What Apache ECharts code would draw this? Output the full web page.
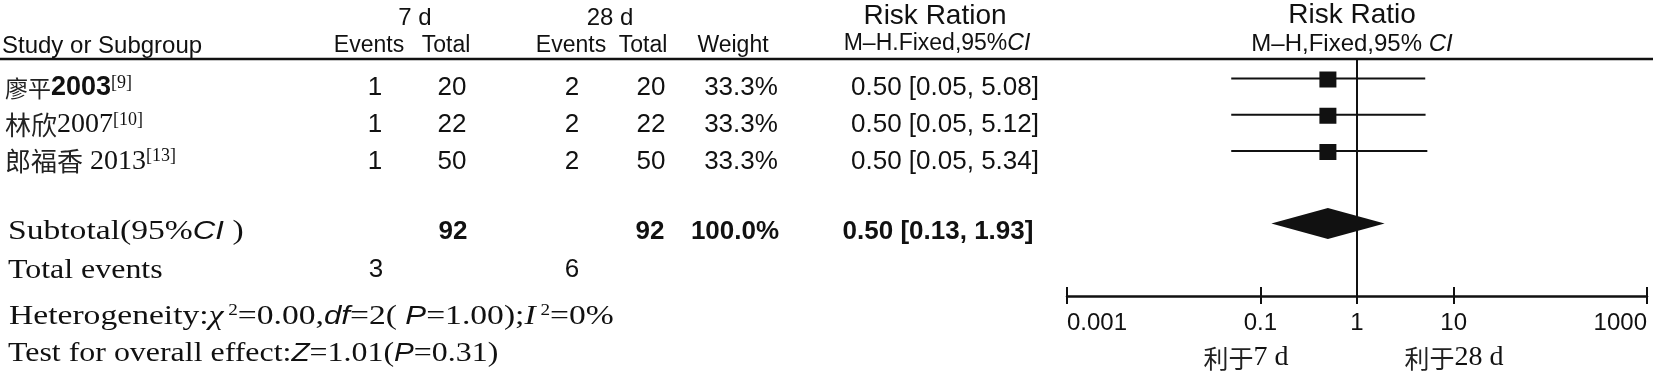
<!DOCTYPE html>
<html><head><meta charset="utf-8">
<script src="https://cdn.jsdelivr.net/npm/echarts@6/dist/echarts.min.js"></script>
<style>html,body{margin:0;padding:0;background:#fff}#c{width:1653px;height:375px}</style>
</head><body><div id="c"></div>
<script>
// ---------------- data ----------------
const studyNames = ['廖平', '林欣', '郎福香'];
const studyYears = ['2003', '2007', '2013'];
const studyRefs = ['[9]', '[10]', '[13]'];
const events7 = [1, 1, 1];
const total7 = [20, 22, 50];
const events28 = [2, 2, 2];
const total28 = [20, 22, 50];
const weights = [33.3, 33.3, 33.3];
const rrEst = [0.50, 0.50, 0.50];
const rrLow = [0.05, 0.05, 0.05];
const rrHigh = [5.08, 5.12, 5.34];
const subTotals = [92, 92];
const subWeight = [100.0];
const subRR = [0.50, 0.13, 1.93]; // est, low, high
const totalEvents = [3, 6];
const heteroStats = ['0.00', '2', '1.00', '0%']; // chi2, df, P, I2
const overallStats = ['1.01', '0.31']; // Z, P
const tickValues = [0.001, 0.1, 1, 10, 1000];
const tickLabels = ['0.001', '0.1', '1', '10', '1000'];
const groupLabels = ['7 d', '28 d'];

// ---------------- style / layout ----------------
const INK = '#111';
const SANS = '"Liberation Sans", Arial, "Noto Sans CJK SC", sans-serif';
const SERIF = '"Liberation Serif", "Times New Roman", "Noto Sans CJK SC", serif';
const CJK = '"Noto Sans CJK SC", sans-serif';
const rowY = [88, 125, 161.5];
const yearStyle = ['sb', 'sr', 'sr'];
const cjkStyle = ['cjkS', 'cjk', 'cjk'];
const nameGap = ['', '', ' '];
const SUB_ROW = 4;

const lg = v => Math.round(Math.log10(v) * 1e6) / 1e6;
const tickPos = tickValues.map(lg);

const rich = {
  cjk: {fontFamily: CJK, fontSize: 26, fill: '#222'},
  cjkS: {fontFamily: CJK, fontSize: 23, fill: '#222'},
  cjkA: {fontFamily: CJK, fontSize: 25, fill: '#222'},
  sr: {fontFamily: SERIF, fontSize: 28, fill: INK},
  sb: {fontFamily: SANS, fontSize: 27, fontWeight: 'bold', fill: INK},
  sup: {fontFamily: SERIF, fontSize: 18, fill: INK, verticalAlign: 'top'},
  is: {fontFamily: SANS, fontStyle: 'italic', fontSize: 26, fill: INK},
  is23: {fontFamily: SANS, fontStyle: 'italic', fontSize: 23, fill: INK},
  is24: {fontFamily: SANS, fontStyle: 'italic', fontSize: 24, fill: INK},
  ix: {fontFamily: SERIF, fontStyle: 'italic', fontSize: 28, fill: INK},
  s2: {fontFamily: SERIF, fontSize: 16, fill: INK, verticalAlign: 'top'},
  h: {fontFamily: SANS, fontSize: 23, fill: INK},
  h24: {fontFamily: SANS, fontSize: 24, fill: INK}
};

function T(x, y, text, o) {
  o = o || {};
  return {
    type: 'text', x: x, y: y, silent: true, scaleX: o.scaleX || 1,
    style: {
      text: text, fill: INK,
      fontSize: o.size || 26, fontFamily: o.family || SANS,
      fontWeight: o.weight || 'normal', fontStyle: 'normal',
      align: o.align || 'center', verticalAlign: 'middle',
      rich: rich
    }
  };
}
const rrText = (e, l, h) => e.toFixed(2) + ' [' + l.toFixed(2) + ', ' + h.toFixed(2) + ']';

const g = [];
// header rule
g.push({type: 'line', silent: true, shape: {x1: 0, y1: 59, x2: 1653, y2: 59}, style: {stroke: INK, lineWidth: 2.5}});
// headers
g.push(T(2, 46, 'Study or Subgroup', {align: 'left', size: 24}));
g.push(T(415, 18.5, groupLabels[0], {size: 24}));
g.push(T(369, 46, 'Events', {size: 23}));
g.push(T(446, 46, 'Total', {size: 23}));
g.push(T(610, 18.5, groupLabels[1], {size: 24}));
g.push(T(571, 46, 'Events', {size: 23}));
g.push(T(643, 46, 'Total', {size: 23}));
g.push(T(733, 46, 'Weight', {size: 23}));
g.push(T(935, 16, 'Risk Ration', {size: 28}));
g.push(T(937, 44, '{h|M–H.Fixed,95%}{is23|CI}', {size: 23}));
g.push(T(1352, 15, 'Risk Ratio', {size: 28}));
g.push(T(1352, 44, '{h24|M–H,Fixed,95% }{is24|CI}', {size: 24}));

// study rows
studyNames.forEach((n, i) => {
  const y = rowY[i];
  g.push(T(5, y, '{' + cjkStyle[i] + '|' + n + '}{sr|' + nameGap[i] + '}{' + yearStyle[i] + '|' + studyYears[i] + '}{sup|' + studyRefs[i] + '}', {align: 'left', family: SERIF, size: 28}));
  g.push(T(375, y, String(events7[i])));
  g.push(T(452, y, String(total7[i])));
  g.push(T(572, y, String(events28[i])));
  g.push(T(651, y, String(total28[i])));
  g.push(T(741, y, weights[i].toFixed(1) + '%'));
  g.push(T(945, y, rrText(rrEst[i], rrLow[i], rrHigh[i])));
});

// subtotal row
g.push(T(8, 232, '{sr|Subtotal(95%}{is|CI}{sr| )}', {align: 'left', family: SERIF, size: 28, scaleX: 1.2}));
g.push(T(453, 232, String(subTotals[0]), {weight: 'bold'}));
g.push(T(650, 232, String(subTotals[1]), {weight: 'bold'}));
g.push(T(735, 232, subWeight[0].toFixed(1) + '%', {weight: 'bold'}));
g.push(T(938, 232, rrText(subRR[0], subRR[1], subRR[2]), {weight: 'bold'}));
// total events
g.push(T(8, 271, 'Total events', {align: 'left', family: SERIF, size: 28, scaleX: 1.14}));
g.push(T(376, 270, String(totalEvents[0])));
g.push(T(572, 270, String(totalEvents[1])));
// heterogeneity & overall effect
g.push(T(9, 317, '{sr|Heterogeneity:}{ix|χ}{s2| 2}{sr|=' + heteroStats[0] + ',}{is|df}{sr|=' + heteroStats[1] + '( }{is|P}{sr|=' + heteroStats[2] + ');}{ix|I}{s2| 2}{sr|=' + heteroStats[3] + '}',
  {align: 'left', family: SERIF, size: 28, scaleX: 1.2}));
g.push(T(8, 354, '{sr|Test for overall effect:}{is|Z}{sr|=' + overallStats[0] + '(}{is|P}{sr|=' + overallStats[1] + ')}',
  {align: 'left', family: SERIF, size: 28, scaleX: 1.14}));
// favours labels
g.push(T(1246, 358, '{cjkA|利于}{sr|' + groupLabels[0] + '}', {family: SERIF, size: 28}));
g.push(T(1454, 358, '{cjkA|利于}{sr|' + groupLabels[1] + '}', {family: SERIF, size: 28}));

// ---------------- chart ----------------
const studyData = studyNames.map((_, i) => [lg(rrLow[i]), lg(rrHigh[i]), lg(rrEst[i]), i, weights[i]]);
const maxW = Math.max.apply(null, weights);
const subData = [[lg(subRR[1]), lg(subRR[2]), lg(subRR[0]), SUB_ROW]];

const axisCommon = {type: 'value', min: -3, max: 3, position: 'bottom', splitLine: {show: false}};
const option = {
  animation: false,
  graphic: g,
  grid: {left: 1067, right: 6, top: 59, bottom: 79},
  xAxis: [
    Object.assign({}, axisCommon, {
      axisLine: {show: true, onZero: false, lineStyle: {color: INK, width: 2.5}},
      axisTick: {show: true, customValues: tickPos, length: 8, inside: false, lineStyle: {color: INK, width: 2}},
      axisLabel: {show: true, customValues: tickPos, margin: 15, fontSize: 24, fontFamily: SANS, color: INK,
        alignMinLabel: 'left', alignMaxLabel: 'right',
        formatter: v => { const k = tickPos.findIndex(p => Math.abs(p - v) < 1e-6); return k >= 0 ? tickLabels[k] : ''; }}
    }),
    Object.assign({}, axisCommon, {
      axisLine: {show: false, onZero: false},
      axisTick: {show: true, customValues: tickPos, length: 9, inside: true, lineStyle: {color: INK, width: 2}},
      axisLabel: {show: false}
    })
  ],
  yAxis: {type: 'value', inverse: true, min: -0.538, max: 6.0, show: false},
  series: [
    {
      type: 'custom', xAxisIndex: 0, silent: true,
      encode: {x: [0, 1, 2], y: 3},
      data: studyData,
      renderItem: function (params, api) {
        const lo = api.coord([api.value(0), api.value(3)]);
        const hi = api.coord([api.value(1), api.value(3)]);
        const es = api.coord([api.value(2), api.value(3)]);
        const s = Math.sqrt(api.value(4) / maxW);
        const w = 17 * s, h = 16 * s;
        return {type: 'group', children: [
          {type: 'line', shape: {x1: lo[0], y1: lo[1], x2: hi[0], y2: hi[1]}, style: {stroke: INK, lineWidth: 2}},
          {type: 'rect', shape: {x: es[0] - w / 2, y: es[1] - h / 2 + 1, width: w, height: h}, style: {fill: INK}}
        ]};
      }
    },
    {
      type: 'custom', xAxisIndex: 0, silent: true,
      encode: {x: [0, 1, 2], y: 3},
      data: subData,
      renderItem: function (params, api) {
        const lo = api.coord([api.value(0), api.value(3)]);
        const hi = api.coord([api.value(1), api.value(3)]);
        const es = api.coord([api.value(2), api.value(3)]);
        const hh = 15.5;
        return {type: 'polygon', shape: {points: [[lo[0], lo[1]], [es[0], es[1] - hh], [hi[0], hi[1]], [es[0], es[1] + hh]]}, style: {fill: INK}};
      },
      markLine: {
        silent: true, symbol: ['none', 'none'], label: {show: false},
        lineStyle: {color: INK, width: 2, type: 'solid'},
        emphasis: {disabled: true},
        data: [{xAxis: 0}]
      }
    }
  ]
};
const chart = echarts.init(document.getElementById('c'), null, {renderer: 'canvas'});
chart.setOption(option);
</script>
</body></html>
